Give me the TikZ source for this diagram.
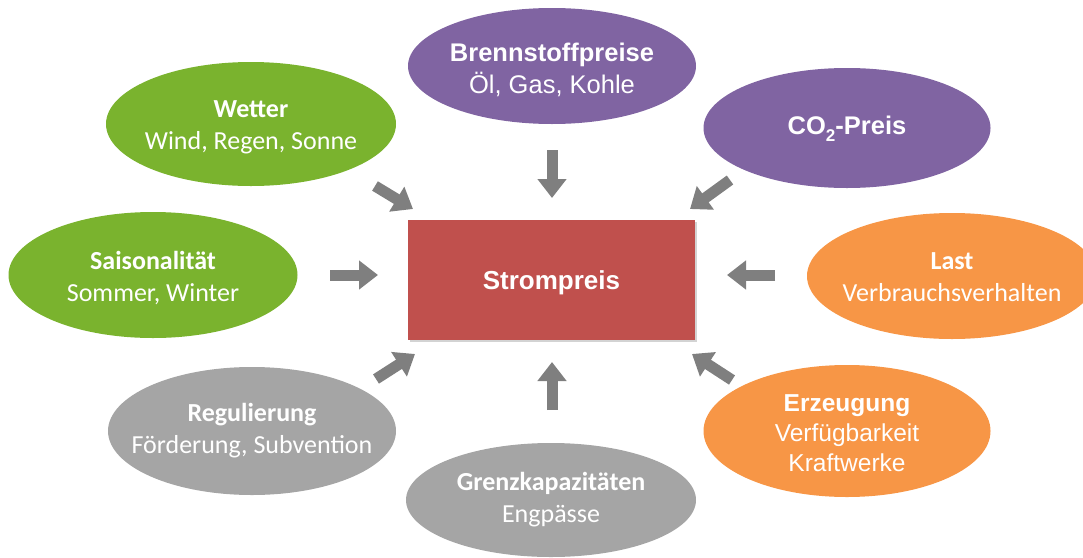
\documentclass[tikz,border=0pt]{standalone}
\usepackage{fontspec}
\setmainfont{Liberation Sans}
\newfontfamily\arialf{Liberation Sans}
\newfontfamily\calf{Carlito}
\usetikzlibrary{shapes.geometric,arrows.meta,shadows}
\definecolor{cgreen}{HTML}{7AB32E}
\definecolor{cpurple}{HTML}{8064A2}
\definecolor{corange}{HTML}{F79646}
\definecolor{cgray}{HTML}{A5A5A5}
\definecolor{cred}{HTML}{C0504D}
\definecolor{carrow}{HTML}{7F7F7F}
\begin{document}
\begin{tikzpicture}[x=1pt,y=-1pt,
  ell/.style={ellipse, inner sep=0pt},
  lbl/.style={inner sep=0pt, text=white, align=center},
  afont/.style={font=\arialf\fontsize{25.5}{32}\selectfont},
  cfont/.style={font=\calf\fontsize{26}{32}\selectfont},
  blockarrow/.style={draw=carrow, line width=11pt, -{Triangle[width=28pt,length=19pt]}}]
\useasboundingbox (0,0) rectangle (1083,557);
\begin{scope}
\clip (0,0) rectangle (1083,557);
\node[ell, fill=cpurple, minimum width=288pt, minimum height=116pt] (brenn) at (552,66) {};
\node[ell, fill=cgreen, minimum width=290pt, minimum height=124pt] (wetter) at (251,124) {};
\node[ell, fill=cpurple, minimum width=287pt, minimum height=120pt] (co2) at (847,128) {};
\node[ell, fill=cgreen, minimum width=289pt, minimum height=126pt] (sais) at (153,275) {};
\node[ell, fill=corange, minimum width=290pt, minimum height=126pt] (last) at (952,276) {};
\node[ell, fill=cgray, minimum width=288pt, minimum height=128pt] (regul) at (252,431) {};
\node[ell, fill=corange, minimum width=287pt, minimum height=132pt] (erz) at (847,431) {};
\node[ell, fill=cgray, minimum width=290pt, minimum height=114pt] (grenz) at (551,500) {};
\node[rectangle, fill=cred, minimum width=287pt, minimum height=120pt, inner sep=0pt,
      drop shadow={opacity=0.35, shadow xshift=1.5pt, shadow yshift=-2pt}] (strom) at (551.5,280) {};
\end{scope}
\node[lbl, afont] (brennT) at ([yshift=-3.5pt]brenn.center) {\textbf{Brennstoffpreise}\\Öl, Gas, Kohle};
\node[lbl, cfont] (wetterT) at ([yshift=-3pt]wetter.center) {\textbf{Wetter}\\Wind, Regen, Sonne};
\node[lbl, afont] (co2T) at ([yshift=-1pt]co2.center) {\textbf{CO\raisebox{-0.28em}{\fontsize{17}{17}\selectfont 2}-Preis}};
\node[lbl, cfont] (saisT) at ([yshift=-3pt]sais.center) {\textbf{Saisonalität}\\Sommer, Winter};
\node[lbl, cfont] (lastT) at ([yshift=-1.5pt]last.center) {\textbf{Last}\\Verbrauchsverhalten};
\node[lbl, afont, font=\arialf\fontsize{24.5}{30}\selectfont] (erzT) at ([yshift=-2pt]erz.center) {\textbf{Erzeugung}\\Verfügbarkeit\\Kraftwerke};
\node[lbl, cfont] (regulT) at (regul.center) {\textbf{Regulierung}\\Förderung, Subvention};
\node[lbl, cfont] (grenzT) at (grenz.center) {\textbf{Grenzkapazitäten}\\Engpässe};
\node[lbl, font=\arialf\bfseries\fontsize{26}{31}\selectfont] (stromT) at ([yshift=-3pt]strom.center) {Strompreis};
\coordinate (aDownS) at (552,150);  \coordinate (aDownE) at (552,198);
\coordinate (aUpS) at (552,410);    \coordinate (aUpE) at (552,362);
\coordinate (aLS) at (330,275);     \coordinate (aLE) at (378,275);
\coordinate (aRS) at (775,275);     \coordinate (aRE) at (727,275);
\coordinate (aWS) at (375,186);     \coordinate (aWE) at (413,209);
\coordinate (aCS) at (730,180);     \coordinate (aCE) at (690,209);
\coordinate (aGS) at (376,379);     \coordinate (aGE) at (415,354);
\coordinate (aES) at (732,380);     \coordinate (aEE) at (692,354);
\draw[blockarrow] (aDownS) -- (aDownE);
\draw[blockarrow] (aUpS) -- (aUpE);
\draw[blockarrow] (aLS) -- (aLE);
\draw[blockarrow] (aRS) -- (aRE);
\draw[blockarrow] (aWS) -- (aWE);
\draw[blockarrow] (aCS) -- (aCE);
\draw[blockarrow] (aGS) -- (aGE);
\draw[blockarrow] (aES) -- (aEE);
\end{tikzpicture}
\end{document}
